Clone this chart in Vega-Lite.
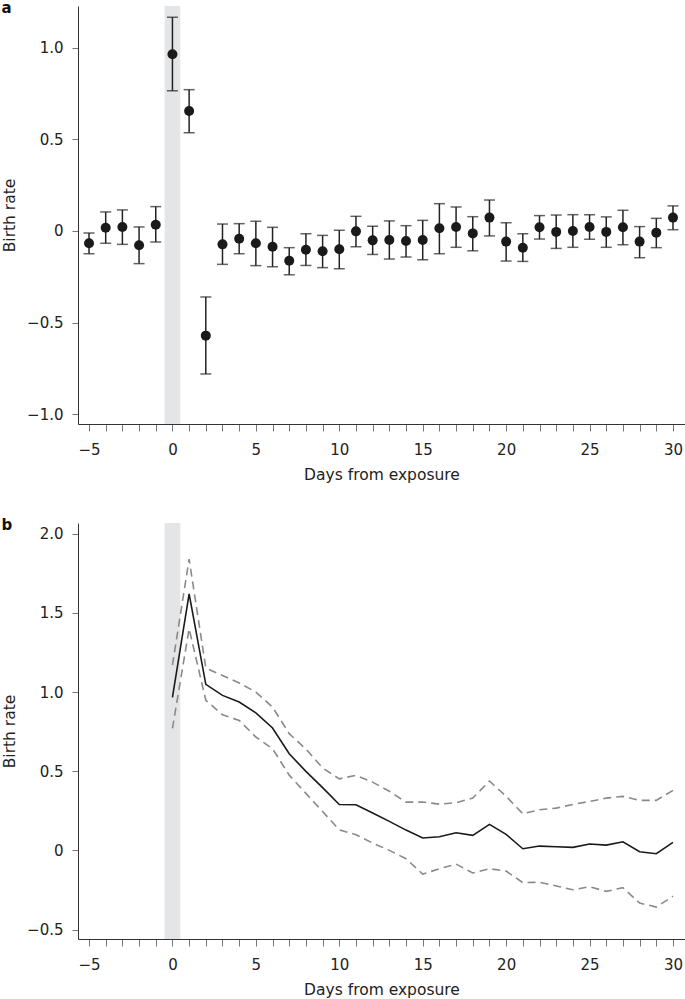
{
  "$schema": "https://vega.github.io/schema/vega-lite/v6.json",
  "background": "white",
  "padding": {"left": 1, "top": 1, "right": 0, "bottom": 0},
  "spacing": 35,
  "config": {
    "font": "DejaVu Sans",
    "view": {"stroke": null},
    "axis": {
      "grid": false,
      "domainColor": "#333333",
      "tickColor": "#777777",
      "labelFont": "DejaVu Sans",
      "labelFontSize": 15,
      "labelColor": "#222222",
      "titleFont": "DejaVu Sans",
      "titleFontSize": 15.5,
      "titleFontWeight": "normal",
      "titleColor": "#222222",
      "labelFlush": false,
      "labelOverlap": false
    },
    "axisX": {"tickSize": 7, "labelPadding": 11, "titlePadding": 10, "tickCount": 40},
    "axisY": {"tickSize": 6, "labelPadding": 9, "titlePadding": 9}
  },
  "datasets": {
    "band": [{"start": -0.47, "end": 0.47}],
    "panelA": [
      {"day": -5, "est": -0.067, "lo": -0.124, "hi": -0.011},
      {"day": -4, "est": 0.018, "lo": -0.067, "hi": 0.104},
      {"day": -3, "est": 0.022, "lo": -0.073, "hi": 0.115},
      {"day": -2, "est": -0.078, "lo": -0.178, "hi": 0.022},
      {"day": -1, "est": 0.034, "lo": -0.06, "hi": 0.133},
      {"day": 0, "est": 0.964, "lo": 0.765, "hi": 1.166},
      {"day": 1, "est": 0.655, "lo": 0.536, "hi": 0.771},
      {"day": 2, "est": -0.571, "lo": -0.78, "hi": -0.36},
      {"day": 3, "est": -0.073, "lo": -0.182, "hi": 0.038},
      {"day": 4, "est": -0.042, "lo": -0.124, "hi": 0.04},
      {"day": 5, "est": -0.067, "lo": -0.189, "hi": 0.053},
      {"day": 6, "est": -0.086, "lo": -0.195, "hi": 0.02},
      {"day": 7, "est": -0.162, "lo": -0.239, "hi": -0.091},
      {"day": 8, "est": -0.102, "lo": -0.188, "hi": -0.015},
      {"day": 9, "est": -0.111, "lo": -0.2, "hi": -0.024},
      {"day": 10, "est": -0.1, "lo": -0.206, "hi": 0.004},
      {"day": 11, "est": -0.002, "lo": -0.086, "hi": 0.08},
      {"day": 12, "est": -0.051, "lo": -0.128, "hi": 0.026},
      {"day": 13, "est": -0.049, "lo": -0.153, "hi": 0.055},
      {"day": 14, "est": -0.055, "lo": -0.142, "hi": 0.029},
      {"day": 15, "est": -0.049, "lo": -0.157, "hi": 0.058},
      {"day": 16, "est": 0.015, "lo": -0.124, "hi": 0.149},
      {"day": 17, "est": 0.022, "lo": -0.089, "hi": 0.131},
      {"day": 18, "est": -0.013, "lo": -0.108, "hi": 0.078},
      {"day": 19, "est": 0.073, "lo": -0.027, "hi": 0.169},
      {"day": 20, "est": -0.058, "lo": -0.164, "hi": 0.045},
      {"day": 21, "est": -0.091, "lo": -0.166, "hi": -0.015},
      {"day": 22, "est": 0.02, "lo": -0.044, "hi": 0.084},
      {"day": 23, "est": -0.005, "lo": -0.095, "hi": 0.087},
      {"day": 24, "est": 0.0, "lo": -0.089, "hi": 0.089},
      {"day": 25, "est": 0.022, "lo": -0.045, "hi": 0.089},
      {"day": 26, "est": -0.005, "lo": -0.089, "hi": 0.077},
      {"day": 27, "est": 0.02, "lo": -0.075, "hi": 0.113},
      {"day": 28, "est": -0.058, "lo": -0.146, "hi": 0.024},
      {"day": 29, "est": -0.009, "lo": -0.091, "hi": 0.069},
      {"day": 30, "est": 0.073, "lo": 0.007, "hi": 0.137}
    ],
    "panelB": [
      {"day": 0, "est": 0.967, "lo": 0.77, "hi": 1.17},
      {"day": 1, "est": 1.62, "lo": 1.4, "hi": 1.84},
      {"day": 2, "est": 1.049, "lo": 0.948, "hi": 1.152},
      {"day": 3, "est": 0.979, "lo": 0.857, "hi": 1.105},
      {"day": 4, "est": 0.937, "lo": 0.821, "hi": 1.057},
      {"day": 5, "est": 0.869, "lo": 0.716, "hi": 1.0},
      {"day": 6, "est": 0.773, "lo": 0.642, "hi": 0.905},
      {"day": 7, "est": 0.61, "lo": 0.475, "hi": 0.737},
      {"day": 8, "est": 0.499, "lo": 0.36, "hi": 0.64},
      {"day": 9, "est": 0.396, "lo": 0.245, "hi": 0.52},
      {"day": 10, "est": 0.29, "lo": 0.13, "hi": 0.452},
      {"day": 11, "est": 0.288, "lo": 0.099, "hi": 0.474},
      {"day": 12, "est": 0.236, "lo": 0.046, "hi": 0.431},
      {"day": 13, "est": 0.183, "lo": 0.0, "hi": 0.373},
      {"day": 14, "est": 0.128, "lo": -0.053, "hi": 0.305},
      {"day": 15, "est": 0.078, "lo": -0.15, "hi": 0.305},
      {"day": 16, "est": 0.086, "lo": -0.116, "hi": 0.292},
      {"day": 17, "est": 0.111, "lo": -0.087, "hi": 0.301},
      {"day": 18, "est": 0.095, "lo": -0.143, "hi": 0.33},
      {"day": 19, "est": 0.164, "lo": -0.116, "hi": 0.438},
      {"day": 20, "est": 0.101, "lo": -0.131, "hi": 0.341},
      {"day": 21, "est": 0.01, "lo": -0.204, "hi": 0.231},
      {"day": 22, "est": 0.027, "lo": -0.202, "hi": 0.257},
      {"day": 23, "est": 0.023, "lo": -0.225, "hi": 0.267},
      {"day": 24, "est": 0.019, "lo": -0.249, "hi": 0.29},
      {"day": 25, "est": 0.04, "lo": -0.23, "hi": 0.309},
      {"day": 26, "est": 0.033, "lo": -0.259, "hi": 0.33},
      {"day": 27, "est": 0.054, "lo": -0.236, "hi": 0.341},
      {"day": 28, "est": -0.009, "lo": -0.333, "hi": 0.316},
      {"day": 29, "est": -0.021, "lo": -0.358, "hi": 0.316},
      {"day": 30, "est": 0.05, "lo": -0.29, "hi": 0.379}
    ]
  },
  "vconcat": [
    {
      "width": 607,
      "height": 418,
      "title": {"text": "a", "anchor": "start", "frame": "bounds", "fontSize": 15, "fontWeight": "bold", "baseline": "alphabetic", "offset": -22, "dx": -1, "color": "#111111"},
      "layer": [
        {
          "data": {"name": "band"},
          "mark": {"type": "rect", "color": "#e4e5e7"},
          "encoding": {
            "x": {
              "field": "start", "type": "quantitative",
              "scale": {"domain": [-5.66, 30.72], "nice": false, "zero": false},
              "axis": {
                "title": "Days from exposure",
                "values": [-5, -4, -3, -2, -1, 0, 1, 2, 3, 4, 5, 6, 7, 8, 9, 10, 11, 12, 13, 14, 15, 16, 17, 18, 19, 20, 21, 22, 23, 24, 25, 26, 27, 28, 29, 30],
                "labelExpr": "datum.value % 5 === 0 ? datum.label : ''"
              }
            },
            "x2": {"field": "end"}
          }
        },
        {
          "data": {"name": "panelA"},
          "mark": {"type": "errorbar", "thickness": 1.5, "color": "#222222", "ticks": {"size": 11, "thickness": 1.5, "color": "#222222"}},
          "encoding": {
            "x": {"field": "day", "type": "quantitative"},
            "y": {
              "field": "lo", "type": "quantitative",
              "scale": {"domain": [-1.053, 1.2275], "nice": false, "zero": false},
              "axis": {
                "title": "Birth rate",
                "values": [-1, -0.5, 0, 0.5, 1],
                "labelExpr": "datum.value === 0 ? '0' : format(datum.value, '.1f')"
              }
            },
            "y2": {"field": "hi"}
          }
        },
        {
          "data": {"name": "panelA"},
          "mark": {"type": "point", "filled": true, "size": 100, "color": "#1a1a1a", "opacity": 1},
          "encoding": {
            "x": {"field": "day", "type": "quantitative"},
            "y": {"field": "est", "type": "quantitative"}
          }
        }
      ]
    },
    {
      "width": 607,
      "height": 416,
      "title": {"text": "b", "anchor": "start", "frame": "bounds", "fontSize": 15, "fontWeight": "bold", "baseline": "alphabetic", "offset": -22, "dx": -1, "color": "#111111"},
      "layer": [
        {
          "data": {"name": "band"},
          "mark": {"type": "rect", "color": "#e4e5e7"},
          "encoding": {
            "x": {
              "field": "start", "type": "quantitative",
              "scale": {"domain": [-5.66, 30.72], "nice": false, "zero": false},
              "axis": {
                "title": "Days from exposure",
                "values": [-5, -4, -3, -2, -1, 0, 1, 2, 3, 4, 5, 6, 7, 8, 9, 10, 11, 12, 13, 14, 15, 16, 17, 18, 19, 20, 21, 22, 23, 24, 25, 26, 27, 28, 29, 30],
                "labelExpr": "datum.value % 5 === 0 ? datum.label : ''"
              }
            },
            "x2": {"field": "end"}
          }
        },
        {
          "data": {"name": "panelB"},
          "mark": {"type": "line", "color": "#8a8a8a", "strokeWidth": 1.6, "strokeDash": [8, 5]},
          "encoding": {
            "x": {"field": "day", "type": "quantitative"},
            "y": {
              "field": "lo", "type": "quantitative",
              "scale": {"domain": [-0.56, 2.068], "nice": false, "zero": false},
              "axis": {
                "title": "Birth rate",
                "values": [-0.5, 0, 0.5, 1, 1.5, 2],
                "labelExpr": "datum.value === 0 ? '0' : format(datum.value, '.1f')"
              }
            }
          }
        },
        {
          "data": {"name": "panelB"},
          "mark": {"type": "line", "color": "#8a8a8a", "strokeWidth": 1.6, "strokeDash": [8, 5]},
          "encoding": {
            "x": {"field": "day", "type": "quantitative"},
            "y": {"field": "hi", "type": "quantitative"}
          }
        },
        {
          "data": {"name": "panelB"},
          "mark": {"type": "line", "color": "#1a1a1a", "strokeWidth": 1.6},
          "encoding": {
            "x": {"field": "day", "type": "quantitative"},
            "y": {"field": "est", "type": "quantitative"}
          }
        }
      ]
    }
  ]
}
